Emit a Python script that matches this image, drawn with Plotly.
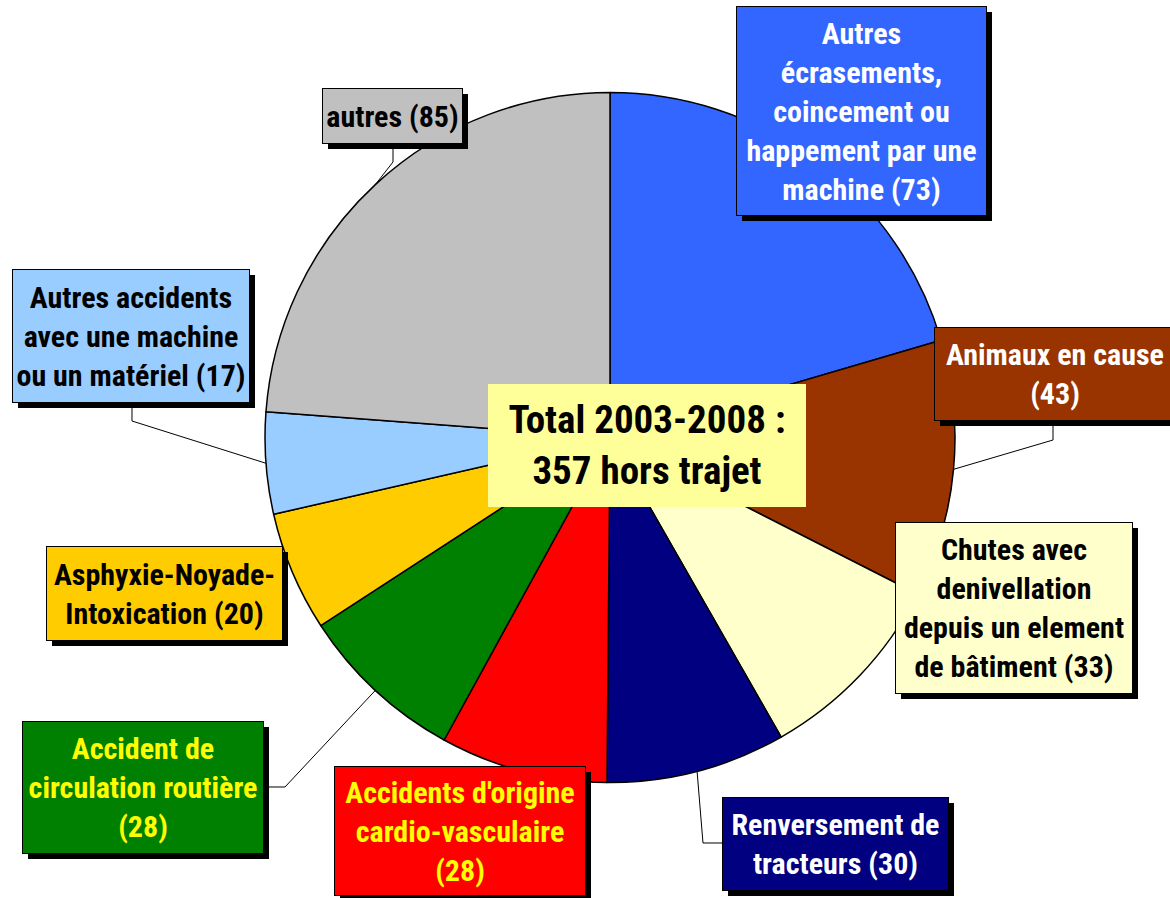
import math
import plotly.graph_objects as go

W, H = 1170, 898

# ---- data ----
categories = [
    "Autres écrasements, coincement ou happement par une machine",
    "Animaux en cause",
    "Chutes avec denivellation depuis un element de bâtiment",
    "Renversement de tracteurs",
    "Accidents d'origine cardio-vasculaire",
    "Accident de circulation routière",
    "Asphyxie-Noyade-Intoxication",
    "Autres accidents avec une machine ou un matériel",
    "autres",
]
values = [73, 43, 33, 30, 28, 28, 20, 17, 85]
label_lines = [
    ["Autres", "écrasements,", "coincement ou", "happement par une", "machine"],
    ["Animaux en cause"],
    ["Chutes avec", "denivellation", "depuis un element", "de bâtiment"],
    ["Renversement de", "tracteurs"],
    ["Accidents d'origine", "cardio-vasculaire"],
    ["Accident de", "circulation routière"],
    ["Asphyxie-Noyade-", "Intoxication"],
    ["Autres accidents", "avec une machine", "ou un matériel"],
    ["autres"],
]
# whether the "(n)" count goes on its own line
count_own_line = [False, True, False, False, True, True, False, False, False]
title_lines = ["Total 2003-2008 :", "357 hors trajet"]

slice_colors = ["#3366FF", "#993300", "#FFFFCC", "#000080", "#FF0000",
                "#008000", "#FFCC00", "#99CCFF", "#C0C0C0"]
text_colors = ["#FFFFFF", "#FFFFFF", "#000000", "#FFFFFF", "#FFFF00",
               "#FFFF00", "#000000", "#000000", "#000000"]

# ---- layout (pixel positions of label boxes: cx, cy, w, h) ----
boxes = [
    (861.5, 111, 249, 208),
    (1055, 374, 240, 92),
    (1014, 608, 236, 170),
    (835.5, 844, 225, 92),
    (460, 831, 250, 128),
    (143, 787.5, 240, 131),
    (164.5, 593.5, 235, 93),
    (131, 336, 236, 132),
    (392.5, 116, 139, 54),
]
# elbow points of leader lines (pixel), None = no leader
elbows = [
    None,
    [(1053, 426), (1053, 440)],
    None,
    [(723, 843), (703, 843)],
    None,
    [(264, 787), (285, 787)],
    None,
    [(132, 402), (132, 421)],
    [(393, 143), (393, 162)],
]

PCX, PCY, R = 610, 437.5, 345
FONT = "Liberation Sans Narrow, Arial Narrow, Roboto Condensed, DejaVu Sans Condensed, sans-serif"
LABEL_SIZE = 30
SHADOW = 5


def px(x):
    return x / W


def py(y):
    return 1 - y / H


fig = go.Figure()
fig.add_trace(go.Pie(
    labels=categories,
    values=values,
    sort=False,
    direction="clockwise",
    rotation=0,
    textinfo="none",
    hoverinfo="label+value",
    marker=dict(colors=slice_colors, line=dict(color="#000000", width=1.5)),
    domain=dict(x=[px(PCX - R), px(PCX + R)], y=[py(PCY + R), py(PCY - R)]),
    showlegend=False,
))

shapes = []
annotations = []
total = sum(values)
cum = 0
for i, v in enumerate(values):
    mid = (cum + v / 2) / total * 2 * math.pi
    cum += v
    ex = PCX + R * math.sin(mid)
    ey = PCY - R * math.cos(mid)
    if elbows[i]:
        pts = elbows[i] + [(ex, ey)]
        path = "M " + " L ".join(f"{px(x):.5f},{py(y):.5f}" for x, y in pts)
        shapes.append(dict(type="path", path=path, xref="paper", yref="paper",
                           line=dict(color="#000000", width=1), layer="above"))

for i, v in enumerate(values):
    cx, cy, w, h = boxes[i]
    lines = list(label_lines[i])
    if count_own_line[i]:
        lines.append(f"({v})")
    else:
        lines[-1] = lines[-1] + f" ({v})"
    text = "<br>".join(lines)
    # drop shadow
    shapes.append(dict(
        type="rect", xref="paper", yref="paper", layer="above",
        x0=px(cx - w / 2 + SHADOW), x1=px(cx + w / 2 + SHADOW + 1),
        y0=py(cy + h / 2 + SHADOW + 1), y1=py(cy - h / 2 + SHADOW),
        fillcolor="#000000", line=dict(width=0)))
    annotations.append(dict(
        x=px(cx), y=py(cy), xref="paper", yref="paper", xanchor="center", yanchor="middle",
        text=text, showarrow=False,
        font=dict(family=FONT, size=LABEL_SIZE, color=text_colors[i], weight="bold"),
        bgcolor=slice_colors[i], bordercolor="#000000", borderwidth=1, borderpad=0,
        width=w, height=h, align="center", valign="middle"))

annotations.append(dict(
    x=px(647), y=py(445), xref="paper", yref="paper", xanchor="center", yanchor="middle",
    text="<br>".join(title_lines), showarrow=False,
    font=dict(family=FONT, size=39, color="#000000", weight="bold"),
    bgcolor="#FFFF99", borderwidth=0, borderpad=0, width=318, height=123,
    align="center", valign="middle"))

fig.update_layout(
    width=W, height=H,
    margin=dict(l=0, r=0, t=0, b=0),
    paper_bgcolor="#FFFFFF", plot_bgcolor="#FFFFFF",
    shapes=shapes, annotations=annotations,
)
fig.write_html("out.html", config={"displayModeBar": False},
               post_script="document.body.style.margin='0';")
